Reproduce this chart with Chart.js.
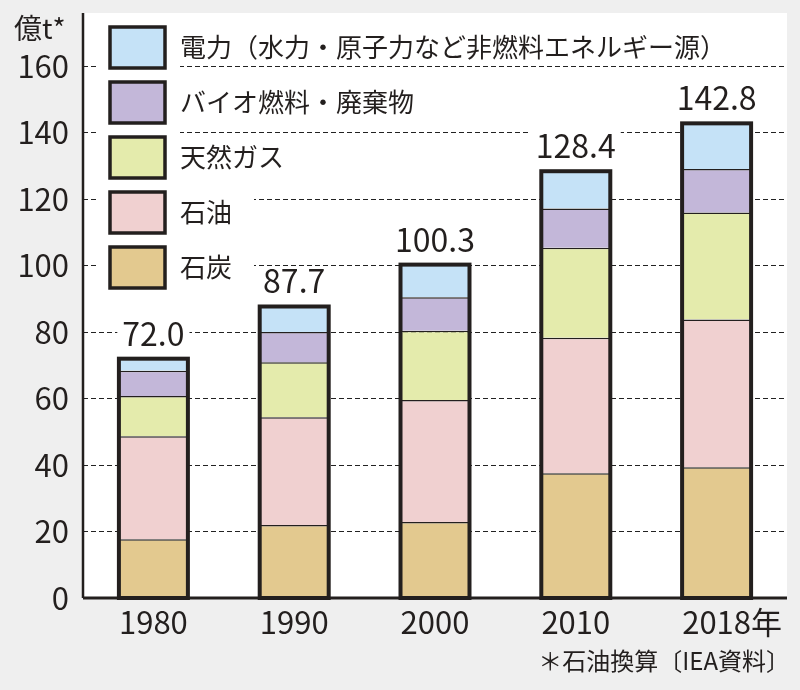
<!DOCTYPE html>
<html lang="ja">
<head>
<meta charset="utf-8">
<title>世界のエネルギー消費量</title>
<script src="https://cdn.jsdelivr.net/npm/chart.js@4.4.1/dist/chart.umd.min.js"></script>
<style>
  html, body { margin: 0; padding: 0; background: #efefef; }
  canvas { display: block; }
</style>
</head>
<body>
<canvas id="energyChart" width="800" height="690"></canvas>
<script>
// データ（単位：億t、石油換算）
const years = ['1980', '1990', '2000', '2010', '2018'];
const coal = [17.7, 22.0, 22.9, 37.5, 39.3];
const oil = [31.0, 32.4, 36.7, 40.8, 44.5];
const gas = [12.1, 16.5, 20.8, 27.1, 32.2];
const bio = [7.6, 9.1, 10.1, 11.8, 13.1];
const power = [3.6, 7.7, 9.8, 11.2, 13.7];
const totals = [72.0, 87.7, 100.3, 128.4, 142.8];
const yTickValues = [0, 20, 40, 60, 80, 100, 120, 140, 160];

const FONT = '"Noto Sans CJK JP", "Noto Sans", sans-serif';
const INK = '#231f1e';

// 背景・凡例・ラベルなどの描画
const decorPlugin = {
    id: 'decor',
    beforeDraw(chart) {
        const ctx = chart.ctx;
        const a = chart.chartArea;
        ctx.save();
        ctx.fillStyle = '#efefef';
        ctx.fillRect(0, 0, chart.width, chart.height);
        ctx.fillStyle = '#ffffff';
        ctx.fillRect(a.left, a.top, a.right - a.left, a.bottom - a.top);
        ctx.restore();
    },
    afterDatasetsDraw(chart) {
        const ctx = chart.ctx;
        const a = chart.chartArea;
        const x = chart.scales.x;
        const y = chart.scales.y;
        const meta = chart.getDatasetMeta(0);

        ctx.save();

        // 棒の外枠
        ctx.strokeStyle = INK;
        ctx.lineWidth = 4;
        meta.data.forEach((bar, i) => {
            const top = y.getPixelForValue(totals[i]);
            const bottom = y.getPixelForValue(0);
            ctx.strokeRect(bar.x - bar.width / 2, top, bar.width, bottom - top);
        });

        // 軸線
        ctx.lineWidth = 2.5;
        ctx.beginPath();
        ctx.moveTo(a.left, a.top);
        ctx.lineTo(a.left, a.bottom);
        ctx.stroke();
        ctx.lineWidth = 3;
        ctx.beginPath();
        ctx.moveTo(a.left, a.bottom);
        ctx.lineTo(a.right, a.bottom);
        ctx.stroke();

        // 合計値ラベル
        ctx.font = '32px ' + FONT;
        ctx.textAlign = 'center';
        ctx.textBaseline = 'alphabetic';
        meta.data.forEach((bar, i) => {
            const label = totals[i].toFixed(1);
            const w = ctx.measureText(label).width;
            const base = y.getPixelForValue(totals[i]) - 13;
            ctx.fillStyle = '#ffffff';
            ctx.fillRect(bar.x - w / 2 - 5, base - 27, w + 10, 32);
            ctx.fillStyle = INK;
            ctx.fillText(label, bar.x, base);
        });

        // 凡例
        const items = chart.data.datasets.slice().reverse();
        ctx.font = '26px ' + FONT;
        ctx.textAlign = 'left';
        ctx.textBaseline = 'middle';
        items.forEach((ds, i) => {
            const top = 25 + i * 55;
            const cy = top + 22;
            const tw = ctx.measureText(ds.label).width;
            ctx.fillStyle = '#ffffff';
            ctx.fillRect(96, top - 6, 84, 56);
            ctx.fillRect(180, cy - 15, tw + 22, 30);
            ctx.fillStyle = ds.backgroundColor;
            ctx.fillRect(110, top + 2, 55, 41);
            ctx.strokeStyle = INK;
            ctx.lineWidth = 3.5;
            ctx.strokeRect(110, top + 2, 55, 41);
            ctx.fillStyle = INK;
            ctx.fillText(ds.label, 180, cy);
        });

        // 横軸ラベル
        ctx.font = '31px ' + FONT;
        ctx.textBaseline = 'alphabetic';
        ctx.fillStyle = INK;
        years.forEach((yr, i) => {
            const cx = x.getPixelForValue(i);
            ctx.textAlign = 'center';
            ctx.fillText(yr, cx, 634);
            if (i === years.length - 1) {
                const w = ctx.measureText(yr).width;
                ctx.textAlign = 'left';
                ctx.fillText('年', cx + w / 2, 634);
            }
        });

        // 単位・出典
        ctx.font = '28px ' + FONT;
        ctx.textAlign = 'left';
        ctx.textBaseline = 'middle';
        ctx.fillText('億t*', 14, 28);
        ctx.font = '24px ' + FONT;
        ctx.textAlign = 'right';
        ctx.fillText('＊石油換算〔IEA資料〕', 790, 661);

        ctx.restore();
    }
};

function makeSet(label, data, color) {
    return {
        label: label,
        data: data,
        backgroundColor: color,
        borderColor: INK,
        borderWidth: { top: 1.5, bottom: 0, left: 0, right: 0 },
        borderSkipped: false,
        barPercentage: 0.49,
        categoryPercentage: 1.0
    };
}

const ctx = document.getElementById('energyChart').getContext('2d');

new Chart(ctx, {
    type: 'bar',
    data: {
        labels: years,
        datasets: [
            makeSet('石炭', coal, '#e3c98f'),
            makeSet('石油', oil, '#f0d0d0'),
            makeSet('天然ガス', gas, '#e4ebac'),
            makeSet('バイオ燃料・廃棄物', bio, '#c3b7d9'),
            makeSet('電力（水力・原子力など非燃料エネルギー源）', power, '#c5e2f7')
        ]
    },
    options: {
        responsive: false,
        animation: false,
        devicePixelRatio: 1,
        layout: { padding: { left: 0, right: 13, top: 13, bottom: 0 } },
        plugins: {
            legend: { display: false },
            tooltip: { enabled: false }
        },
        scales: {
            x: {
                stacked: true,
                grid: { display: false },
                border: { display: false },
                ticks: { display: false },
                afterFit: function(scale) {
                    scale.height = 92;
                    scale.paddingLeft = 0;
                    scale.paddingRight = 0;
                }
            },
            y: {
                stacked: true,
                min: 0,
                max: 176,
                afterBuildTicks: function(scale) {
                    scale.ticks = yTickValues.map(v => ({ value: v }));
                },
                afterFit: function(scale) {
                    scale.width = 83;
                    scale.paddingTop = 0;
                    scale.paddingBottom = 0;
                },
                grid: {
                    color: '#222222',
                    lineWidth: 1,
                    drawTicks: false
                },
                border: { display: false, dash: [5, 3] },
                ticks: {
                    padding: 14,
                    color: INK,
                    font: { family: FONT, size: 31 }
                }
            }
        }
    },
    plugins: [decorPlugin]
});
</script>
</body>
</html>
